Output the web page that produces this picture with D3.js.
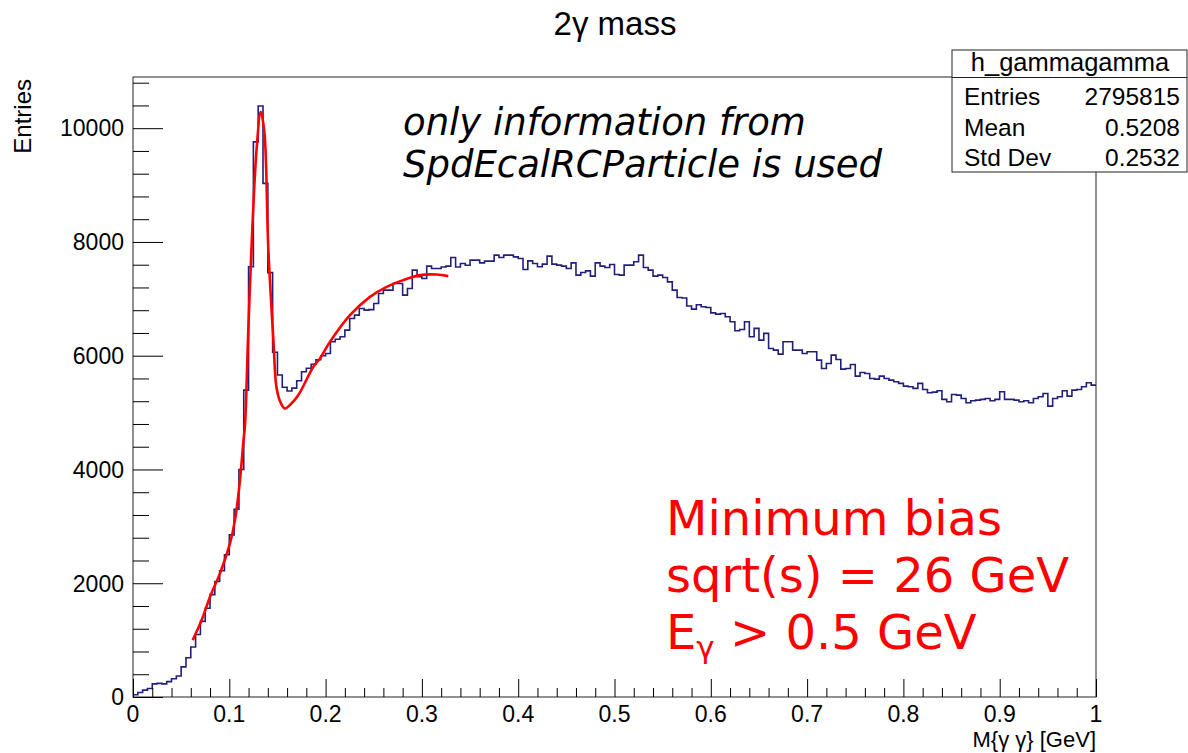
<!DOCTYPE html>
<html>
<head>
<meta charset="utf-8">
<script src="https://d3js.org/d3.v7.min.js"></script>
<style>
  body { margin: 0; background: #fff; }
  text { font-family: "Liberation Sans", Arial, sans-serif; }
</style>
</head>
<body>
<script>
(function(){
  // histogram h_gammagamma: 200 bins on [0, 1]
  var histRange = [0, 1];
  var counts = [
    40, 80, 120, 150, 230, 240, 230, 270, 320, 370,
    530, 690, 880, 1100, 1330, 1560, 1800, 2030, 2220, 2500,
    2850, 3300, 4000, 5395, 7563, 9760, 10390, 9030, 7460, 6060,
    5660, 5445, 5380, 5430, 5560, 5717, 5780, 5850, 5930, 6000,
    6040, 6245, 6290, 6333, 6450, 6655, 6713, 6831, 6801, 6810,
    6919, 7094, 7153, 7153, 7270, 7270, 7065, 7183, 7504, 7387,
    7358, 7575, 7534, 7534, 7560, 7575, 7727, 7560, 7621, 7590,
    7680, 7680, 7633, 7663, 7663, 7768, 7727, 7768, 7768, 7738,
    7709, 7516, 7668, 7621, 7563, 7610, 7750, 7610, 7592, 7575,
    7534, 7633, 7417, 7463, 7492, 7399, 7633, 7575, 7551, 7604,
    7428, 7417, 7592, 7592, 7651, 7768, 7551, 7504, 7399, 7417,
    7376, 7299, 7153, 7024, 7015, 6875, 6819, 6895, 6860, 6848,
    6754, 6731, 6743, 6684, 6596, 6438, 6462, 6596, 6333, 6480,
    6274, 6392, 6128, 6098, 6028, 6245, 6245, 6098, 6098, 6040,
    6069, 6069, 5923, 5776, 5864, 6011, 5934, 5764, 5776, 5846,
    5641, 5706, 5688, 5600, 5589, 5641, 5600, 5571, 5542, 5513,
    5466, 5454, 5425, 5513, 5407, 5348, 5360, 5383, 5232, 5190,
    5319, 5308, 5249, 5173, 5208, 5220, 5232, 5249, 5208, 5232,
    5366, 5232, 5232, 5220, 5190, 5208, 5173, 5249, 5278, 5337,
    5114, 5249, 5278, 5383, 5290, 5395, 5407, 5454, 5524, 5483
  ];

  // fit curve, points
  var fitX = [0.062, 0.0713, 0.08, 0.0903, 0.1007, 0.1059, 0.1111, 0.1146, 0.1163, 0.1198,
              0.1239, 0.1284, 0.1326, 0.1364, 0.1405, 0.1457, 0.1492, 0.1537, 0.1578, 0.164,
              0.1717, 0.1873, 0.1942, 0.2046, 0.2253, 0.2461, 0.2634, 0.2807, 0.298, 0.3154, 0.3274];
  var fitY = [1000, 1353, 1763, 2174, 2700, 3110, 3814, 4487, 4780, 6480,
              8237, 9643, 10287, 9935, 7886, 6304, 5425, 5161, 5073, 5150,
              5308, 5805, 5952, 6245, 6713, 7035, 7211, 7329, 7417, 7428, 7399];

  var xTicks = [0, 0.1, 0.2, 0.3, 0.4, 0.5, 0.6, 0.7, 0.8, 0.9, 1];
  var yTicks = [0, 2000, 4000, 6000, 8000, 10000];

  var statsRows = [["Entries", "2795815"], ["Mean", "0.5208"], ["Std Dev", "0.2532"]];
  var noteLines = ["only information from", "SpdEcalRCParticle is used"];
  var redLines = ["Minimum bias", "sqrt(s) = 26 GeV"];

  var settings = {
    width: 1188,
    height: 753,
    left: 133,
    right: 1096,
    top: 77,
    bottom: 697,
    yMax: 10900
  };

  var svg = d3.select("body").append("svg")
      .attr("width", settings.width)
      .attr("height", settings.height);

  var x = d3.scaleLinear().domain(histRange).range([settings.left, settings.right]);
  var y = d3.scaleLinear().domain([0, settings.yMax]).range([settings.bottom, settings.top]);

  // title
  svg.append("text")
      .attr("x", 615).attr("y", 35)
      .attr("text-anchor", "middle")
      .style("font-size", "33px")
      .text("2\u03b3 mass");

  // histogram outline (steps)
  var binW = (histRange[1] - histRange[0]) / counts.length;
  var path = d3.path();
  counts.forEach(function(c, i) {
    var x0 = x(histRange[0] + i * binW), x1 = x(histRange[0] + (i + 1) * binW);
    if (i === 0) path.moveTo(x0, y(c)); else path.lineTo(x0, y(c));
    path.lineTo(x1, y(c));
  });
  svg.append("path")
      .attr("d", path.toString())
      .attr("fill", "none")
      .attr("stroke", "#20207a")
      .attr("stroke-width", 1.6);

  // fit
  var fitLine = d3.line()
      .x(function(d) { return x(d[0]); })
      .y(function(d) { return y(d[1]); })
      .curve(d3.curveCatmullRom.alpha(0.5));
  svg.append("path")
      .datum(d3.zip(fitX, fitY))
      .attr("d", fitLine)
      .attr("fill", "none")
      .attr("stroke", "#ff0000")
      .attr("stroke-width", 2.6);

  // frame
  svg.append("rect")
      .attr("x", settings.left).attr("y", settings.top)
      .attr("width", settings.right - settings.left)
      .attr("height", settings.bottom - settings.top)
      .attr("fill", "none")
      .attr("stroke", "#222")
      .attr("stroke-width", 1);

  // y axis: ticks drawn inside the frame
  var yAxis = d3.axisRight(y)
      .tickValues(d3.range(0, settings.yMax, 400))
      .tickSize(0)
      .tickFormat("");
  var yg = svg.append("g").attr("transform", "translate(" + settings.left + ",0)").call(yAxis);
  yg.select(".domain").remove();
  yg.selectAll(".tick line")
      .attr("x2", function(d) { return d % 2000 === 0 ? 30 : 16; })
      .attr("stroke", "#000");
  svg.append("g").selectAll("text")
      .data(yTicks)
      .enter().append("text")
      .attr("x", settings.left - 9)
      .attr("y", function(d) { return y(d); })
      .attr("dy", "0.36em")
      .attr("text-anchor", "end")
      .style("font-size", "23px")
      .text(function(d) { return d; });

  // x axis
  var xAxis = d3.axisTop(x)
      .tickValues(d3.range(0, 1.0001, 0.02))
      .tickSize(0)
      .tickFormat("");
  var xg = svg.append("g").attr("transform", "translate(0," + settings.bottom + ")").call(xAxis);
  xg.select(".domain").remove();
  xg.selectAll(".tick line")
      .attr("y2", function(d, i) { return i % 5 === 0 ? -18 : -9; })
      .attr("stroke", "#000");
  svg.append("g").selectAll("text")
      .data(xTicks)
      .enter().append("text")
      .attr("x", function(d) { return x(d); })
      .attr("y", settings.bottom + 25)
      .attr("text-anchor", "middle")
      .style("font-size", "23px")
      .text(function(d) { return d; });

  // axis titles
  svg.append("text")
      .attr("transform", "translate(31," + (settings.top + 2) + ") rotate(-90)")
      .attr("text-anchor", "end")
      .style("font-size", "24px")
      .text("Entries");
  svg.append("text")
      .attr("x", settings.right).attr("y", 747)
      .attr("text-anchor", "end")
      .style("font-size", "22px")
      .text("M{\u03b3 \u03b3} [GeV]");

  // stats box
  var stats = svg.append("g");
  stats.append("rect")
      .attr("x", 952).attr("y", 50)
      .attr("width", 235).attr("height", 122)
      .attr("fill", "#fff").attr("stroke", "#222").attr("stroke-width", 1);
  stats.append("line")
      .attr("x1", 952).attr("x2", 1187).attr("y1", 77.5).attr("y2", 77.5)
      .attr("stroke", "#222");
  stats.append("text")
      .attr("x", 1070).attr("y", 71)
      .attr("text-anchor", "middle")
      .style("font-size", "25.5px")
      .text("h_gammagamma");
  statsRows.forEach(function(r, i) {
    stats.append("text").attr("x", 964).attr("y", 105 + i * 30.5)
        .style("font-size", "24.5px").text(r[0]);
    stats.append("text").attr("x", 1180).attr("y", 105 + i * 30.5)
        .attr("text-anchor", "end")
        .style("font-size", "24.5px").text(r[1]);
  });

  // annotations
  noteLines.forEach(function(t, i) {
    svg.append("text")
        .attr("x", 403).attr("y", 135 + i * 42)
        .style("font-family", "'DejaVu Sans', sans-serif")
        .style("font-style", "oblique")
        .style("font-size", "37px")
        .text(t);
  });
  redLines.forEach(function(t, i) {
    svg.append("text")
        .attr("x", 666).attr("y", 535 + i * 57)
        .attr("fill", "#ff0000")
        .style("font-family", "'DejaVu Sans', sans-serif")
        .style("font-size", "48px")
        .text(t);
  });
  var eg = svg.append("text")
      .attr("x", 666).attr("y", 649)
      .attr("fill", "#ff0000")
      .style("font-family", "'DejaVu Sans', sans-serif")
      .style("font-size", "48px");
  eg.append("tspan").text("E");
  eg.append("tspan").attr("dy", 9).style("font-size", "31px").text("\u03b3");
  eg.append("tspan").attr("dy", -9).text(" > 0.5 GeV");
})();
</script>
</body>
</html>
